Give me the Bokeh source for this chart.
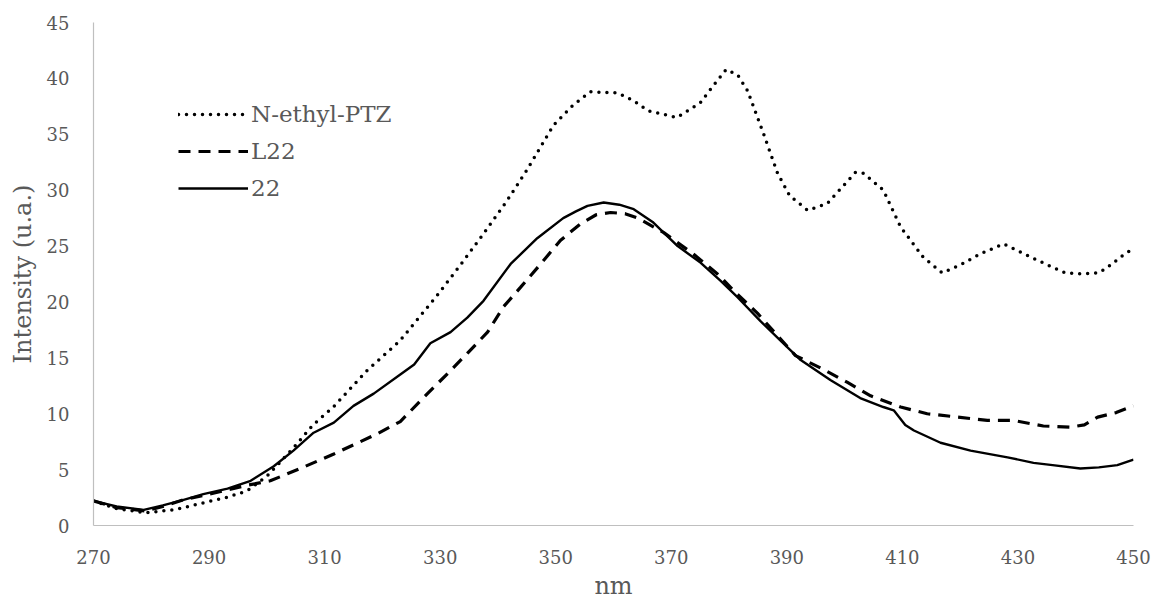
from bokeh.plotting import figure
from bokeh.models import FixedTicker, Legend, LegendItem, Title
from bokeh.embed import file_html
from bokeh.resources import INLINE

# Data
ptz_nm = [270, 274, 279, 284, 288.5, 293, 296.6, 300, 304.7, 308, 311.5, 317.4, 323, 329.5, 333.5,
          337.5, 341.5, 345, 349.6, 353, 356, 360.7, 363.5, 366, 371, 375, 377.5, 379.5, 381.5,
          383.2, 386, 388.4, 390.5, 393.6, 397, 401.9, 403.3, 406.7, 409.7, 413.6, 416.9, 420,
          423.5, 427.5, 432.7, 435.6, 438.2, 441, 444, 445.5, 448, 450]
ptz_int = [2.2, 1.5, 1.15, 1.4, 1.97, 2.5, 3.1, 4.4, 7.0, 9.0, 10.6, 13.9, 16.5, 20.6, 23.3,
           26.1, 29.0, 31.8, 35.8, 37.6, 38.8, 38.7, 38.0, 37.1, 36.5, 37.8, 39.5, 40.8, 40.3,
           38.9, 35.0, 31.5, 29.5, 28.2, 28.8, 31.6, 31.5, 30.0, 26.7, 24.0, 22.6, 23.3,
           24.3, 25.2, 23.9, 23.2, 22.6, 22.5, 22.6, 23.1, 24.1, 24.8]

l22_nm = [270, 274, 279, 282, 285.6, 290, 296.6, 300.6, 305.8, 311.6, 319.1, 323.1, 327.8, 331.3,
          334.7, 338.2, 341, 343.9, 347.4, 350.8, 354.3, 357, 359.5, 362, 364.2, 368.7, 373.8,
          378, 381.4, 384.9, 388, 391.5, 395.8, 400.5, 404.5, 409.7, 414.3, 419.5, 424.7, 429.2,
          434.4, 439.1, 441.5, 443.8, 447, 450]
l22_int = [2.2, 1.6, 1.3, 1.7, 2.3, 2.8, 3.6, 4.0, 5.1, 6.4, 8.2, 9.3, 11.8, 13.6,
           15.4, 17.3, 19.6, 21.3, 23.4, 25.5, 27.0, 27.8, 28.0, 27.9, 27.5, 26.2, 24.3,
           22.5, 20.7, 19.0, 17.2, 15.2, 14.1, 12.8, 11.6, 10.6, 10.0, 9.7, 9.4, 9.4,
           8.9, 8.8, 9.0, 9.7, 10.1, 10.7]

c22_nm = [270, 274, 278.7, 282, 285.6, 289, 293.2, 297.2, 301.2, 304.6, 308.1, 311.6, 315, 318.5,
          323.1, 325.5, 328.3, 331.8, 334.7, 337.5, 342.2, 346.8, 351.3, 353.5, 355.5, 358.3,
          361, 363.5, 366.9, 371.1, 375.1, 378.5, 381.5, 385.4, 389, 392.4, 397.6, 402.7,
          406.7, 408.5, 410.5, 412, 416.6, 421.8, 428.2, 432.7, 436, 440.8, 444, 447.2, 450]
c22_int = [2.2, 1.7, 1.4, 1.8, 2.3, 2.8, 3.3, 4.0, 5.3, 6.7, 8.3, 9.2, 10.7, 11.8,
           13.5, 14.4, 16.3, 17.3, 18.6, 20.1, 23.4, 25.7, 27.5, 28.1, 28.6, 28.9,
           28.7, 28.3, 27.1, 25.0, 23.5, 21.9, 20.4, 18.3, 16.5, 14.8, 13.0, 11.4,
           10.6, 10.3, 9.0, 8.5, 7.4, 6.7, 6.1, 5.6, 5.4, 5.1, 5.2, 5.4, 5.9]

x_ticks = [270, 290, 310, 330, 350, 370, 390, 410, 430, 450]
y_ticks = [0, 5, 10, 15, 20, 25, 30, 35, 40, 45]
series_names = ["N-ethyl-PTZ", "L22", "22"]
x_title = "nm"
y_title = "Intensity (u.a.)"

FONT = "DejaVu Serif"
GRAY = "#595959"

p = figure(width=1153, height=603, output_backend="svg", toolbar_location=None,
           x_range=(270, 450), y_range=(0, 45),
           min_border_left=93, min_border_right=20, min_border_top=22, min_border_bottom=78)
p.outline_line_color = None
p.xgrid.grid_line_color = None
p.ygrid.grid_line_color = None
p.background_fill_color = "white"

r1 = p.line(ptz_nm, ptz_int, line_color="black", line_width=3.5, line_dash="0 8", line_cap="round")
r2 = p.line(l22_nm, l22_int, line_color="black", line_width=3.2, line_dash="12 8")
r3 = p.line(c22_nm, c22_int, line_color="black", line_width=2.4, line_join="round")

for ax in (p.xaxis[0], p.yaxis[0]):
    ax.axis_line_color = "#BFBFBF"
    ax.axis_line_width = 1.2
    ax.major_tick_line_color = None
    ax.minor_tick_line_color = None
    ax.major_label_text_font = FONT
    ax.major_label_text_font_size = "18px"
    ax.major_label_text_color = GRAY
    ax.axis_label_text_font = FONT
    ax.axis_label_text_font_style = "normal"
    ax.axis_label_text_color = GRAY

p.xaxis.ticker = FixedTicker(ticks=x_ticks)
p.yaxis.ticker = FixedTicker(ticks=y_ticks)
p.yaxis.axis_label = y_title
p.yaxis.axis_label_text_font_size = "24px"
p.xaxis.major_label_standoff = 18
p.yaxis.major_label_standoff = 18
p.yaxis.axis_label_standoff = 7

# x-axis title as a panel below the axis
p.add_layout(Title(text=x_title, align="center", text_font=FONT, text_font_size="24px",
                   text_font_style="normal", text_color=GRAY, standoff=6), "below")

legend = Legend(items=[LegendItem(label=series_names[0], renderers=[r1]),
                       LegendItem(label=series_names[1], renderers=[r2]),
                       LegendItem(label=series_names[2], renderers=[r3])],
                location=(85, 323), border_line_color=None, background_fill_alpha=0,
                padding=0, margin=0, spacing=9, glyph_width=70, glyph_height=28,
                label_height=28, label_standoff=3, label_text_font=FONT,
                label_text_font_size="23px", label_text_color=GRAY)
p.add_layout(legend, "center")

open("out.html", "w").write(file_html(p, INLINE))
